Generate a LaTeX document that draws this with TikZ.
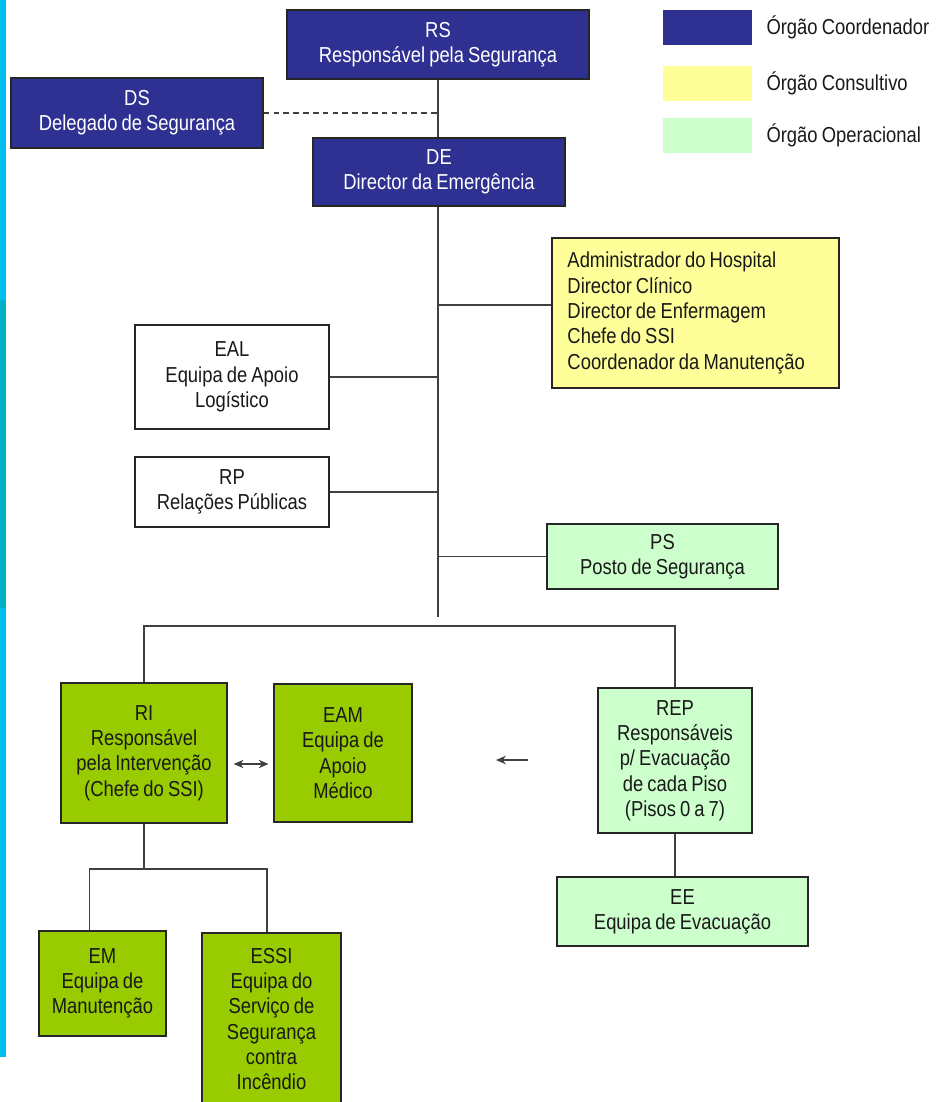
\documentclass[tikz,border=0pt]{standalone}
\usepackage{fontspec}
\setmainfont{Liberation Sans}[FakeStretch=0.85, WordSpace=0.8]
\usetikzlibrary{arrows.meta}
\definecolor{coordblue}{RGB}{46,49,146}
\definecolor{consyellow}{RGB}{255,255,153}
\definecolor{operlight}{RGB}{204,255,204}
\definecolor{opergreen}{RGB}{153,204,0}
\definecolor{stripcyan}{RGB}{0,190,240}
\definecolor{stripteal}{RGB}{0,174,200}
\begin{document}
\begin{tikzpicture}[
        x=0.025cm, y=-0.025cm, % one unit = one pixel of the scan
        every node/.style={font=\fontsize{15.4}{18}\selectfont, align=center, draw=black!85, line width=1pt, inner sep=2pt, text=black!90},
        boxsize/.style 2 args={minimum width=#1*0.025cm, minimum height=#2*0.025cm},
        coordbox/.style={fill=coordblue, text=white},
        consbox/.style={fill=consyellow, align=flush left, text width=6.4cm},
        operbox/.style={fill=operlight},
        teambox/.style={fill=opergreen},
        plainbox/.style={fill=white},
        swatch/.style={draw=none},
        legtext/.style={draw=none, anchor=west},
        link/.style={draw=black!75, line width=1pt}
    ]
    \useasboundingbox (0,0) rectangle (938,1102);
    \fill[white] (0,0) rectangle (938,1102);
    % side strip
    \fill[stripcyan] (0,0) rectangle (6,1057);
    \fill[stripteal] (0,300) rectangle (6,608);

    % Coordinating bodies
    \node[coordbox, boxsize={302}{69}] (rs) at (438,44.5) {RS\\Responsável pela Segurança};
    \node[coordbox, boxsize={252}{70}] (ds) at (137,113) {DS\\Delegado de Segurança};
    \node[coordbox, boxsize={252}{68}] (de) at (439,172) {DE\\Director da Emergência};

    % Advisory body
    \node[consbox, boxsize={287}{150}] (cons) at (695.5,313) {Administrador do Hospital\\Director Clínico\\Director de Enfermagem\\Chefe do SSI\\Coordenador da Manutenção};

    % Support
    \node[plainbox, boxsize={194}{104}] (eal) at (232,377) {EAL\\Equipa de Apoio\\Logístico};
    \node[plainbox, boxsize={194}{70}] (rp) at (232,492) {RP\\Relações Públicas};
    \node[operbox, boxsize={231}{65}] (ps) at (662.5,556.5) {PS\\Posto de Segurança};

    % Operational teams
    \node[teambox, boxsize={166}{140}] (ri) at (144,753) {RI\\Responsável\\pela Intervenção\\(Chefe do SSI)};
    \node[teambox, boxsize={138}{138}] (eam) at (343,753) {EAM\\Equipa de\\Apoio\\Médico};
    \node[operbox, boxsize={154}{145}] (rep) at (675,760.5) {REP\\Responsáveis\\p/ Evacuação\\de cada Piso\\(Pisos 0 a 7)};
    \node[operbox, boxsize={251}{69}] (ee) at (682.5,911.5) {EE\\Equipa de Evacuação};
    \node[teambox, boxsize={127}{105}] (em) at (102.5,983.5) {EM\\Equipa de\\Manutenção};
    \node[teambox, boxsize={139}{172}] (essi) at (271.5,1019) {ESSI\\Equipa do\\Serviço de\\Segurança\\contra\\Incêndio};

    % Legend
    \node[swatch, fill=coordblue, boxsize={89}{35}] (key1) at (707.5,27.5) {};
    \node[legtext] (key1txt) at (763,27.5) {Órgão Coordenador};
    \node[swatch, fill=consyellow, boxsize={89}{35}] (key2) at (707.5,83.5) {};
    \node[legtext] (key2txt) at (763,83.5) {Órgão Consultivo};
    \node[swatch, fill=operlight, boxsize={89}{35}] (key3) at (707.5,135.5) {};
    \node[legtext] (key3txt) at (763,135.5) {Órgão Operacional};

    % Connectors
    \coordinate (trunkend) at (438,617);
    \coordinate (bar) at (438,626);
    \coordinate (fork) at (144,869);
    \draw[link] (rs.south) -- (rs.south |- de.north);
    \draw[link, dashed, dash pattern=on 4pt off 3pt] (ds.east) -- (ds.east -| rs.south);
    \draw[link] (trunkend |- de.south) -- (trunkend);
    \draw[link] ([yshift=0.2cm]cons.west) -- ([yshift=0.2cm]cons.west -| trunkend);
    \draw[link] (eal.east) -- (eal.east -| trunkend);
    \draw[link] (rp.east) -- (rp.east -| trunkend);
    \draw[link] (ps.west) -- (ps.west -| trunkend);
    \draw[link] (ri.north) -- (ri.north |- bar) -- (rep.north |- bar) -- (rep.north);
    \draw[link] (ri.south) -- (fork);
    \draw[link] ([xshift=-0.33cm]em.north) -- ([xshift=-0.33cm]em.north |- fork) -- ([xshift=-0.11cm]essi.north |- fork) -- ([xshift=-0.11cm]essi.north);
    \draw[link] (rep.south) -- (rep.south |- ee.north);
    \draw[link, line width=0.9pt, {Stealth[length=7pt,width=6pt]}-{Stealth[length=7pt,width=6pt]}, shorten <=0.15cm, shorten >=0.12cm] ([yshift=-0.275cm]ri.east) -- ([yshift=-0.275cm]ri.east -| eam.west);
    \coordinate (ptrs) at (528,760);
    \coordinate (ptre) at (496,760);
    \draw[link, line width=0.9pt, -{Stealth[length=7pt,width=6pt]}] (ptrs) -- (ptre);
\end{tikzpicture}
\end{document}
